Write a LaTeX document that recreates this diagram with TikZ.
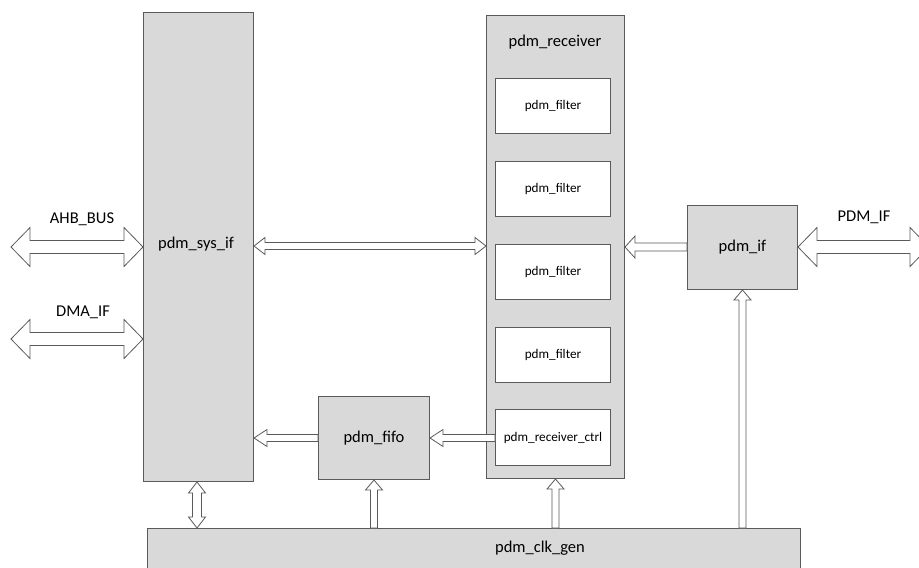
\documentclass[tikz,border=0pt]{standalone}
\usepackage{fontspec}
\setmainfont{Carlito}
\usetikzlibrary{calc}
\definecolor{boxfill}{HTML}{D9D9D9}
\definecolor{boxline}{HTML}{5A5A5A}
\tikzset{
  blk/.style={draw=boxline, fill=white, line width=0.8pt, line join=miter},
  gbox/.style={draw=boxline, fill=boxfill, line width=1pt, inner sep=0pt},
  wbox/.style={draw=boxline, fill=white, line width=1pt, inner sep=0pt},
  bigtxt/.style={font=\fontsize{16.5}{18}\selectfont},
  smalltxt/.style={font=\fontsize{13.2}{15}\selectfont},
}
% single block arrow: #1 tail, #2 tip, #3 half shaft, #4 half head, #5 head length
\newcommand\blkarrowS[5]{%
  \coordinate (sa2) at ($(#2)!#5!(#1)$);
  \draw[blk] ($(#1)!#3!90:(#2)$) -- ($(sa2)!#3!90:(#2)$) -- ($(sa2)!#4!90:(#2)$) -- (#2)
    -- ($(sa2)!#4!-90:(#2)$) -- ($(sa2)!#3!-90:(#2)$) -- ($(#1)!#3!-90:(#2)$) -- cycle;}
% double block arrow
\newcommand\blkarrowD[5]{%
  \coordinate (da1) at ($(#1)!#5!(#2)$);
  \coordinate (da2) at ($(#2)!#5!(#1)$);
  \draw[blk] (#1) -- ($(da1)!#4!90:(#2)$) -- ($(da1)!#3!90:(#2)$) -- ($(da2)!#3!90:(#2)$)
    -- ($(da2)!#4!90:(#2)$) -- (#2) -- ($(da2)!#4!-90:(#2)$) -- ($(da2)!#3!-90:(#2)$)
    -- ($(da1)!#3!-90:(#2)$) -- ($(da1)!#4!-90:(#2)$) -- cycle;}
\begin{document}
\begin{tikzpicture}[x=1pt,y=-1pt]
\useasboundingbox (0,0) rectangle (919,568);
\clip (0,0) rectangle (919,568);
\fill[white] (0,0) rectangle (919,568);

% main blocks
\node[gbox, minimum width=110pt, minimum height=469pt, anchor=north west] (sysif) at (143,12) {};
\node[bigtxt] (sysiflbl) at (196,244) {pdm\_sys\_if};

\node[gbox, minimum width=138pt, minimum height=463pt, anchor=north west] (recv) at (486,15) {};
\node[bigtxt] (recvlbl) at (555,42) {pdm\_receiver};

\node[wbox, smalltxt, minimum width=115pt, minimum height=55pt, anchor=north west] (f1) at (495,78) {pdm\_filter};
\node[wbox, smalltxt, minimum width=115pt, minimum height=55pt, anchor=north west] (f2) at (495,161) {pdm\_filter};
\node[wbox, smalltxt, minimum width=115pt, minimum height=55pt, anchor=north west] (f3) at (495,244) {pdm\_filter};
\node[wbox, smalltxt, minimum width=115pt, minimum height=55pt, anchor=north west] (f4) at (495,327) {pdm\_filter};
\node[wbox, smalltxt, minimum width=115pt, minimum height=56pt, anchor=north west] (ctrl) at (495,409) {pdm\_receiver\_ctrl};

\node[gbox, bigtxt, minimum width=111pt, minimum height=83pt, anchor=north west] (fifo) at (318,396) {pdm\_fifo};
\node[gbox, bigtxt, minimum width=110pt, minimum height=84pt, anchor=north west] (pif) at (687,205) {pdm\_if};

\node[gbox, minimum width=653pt, minimum height=60pt, anchor=north west] (clk) at (147,528) {};
\node[bigtxt] (clklbl) at (540,548) {pdm\_clk\_gen};

% free ends
\coordinate (ahbL) at (11,247);
\coordinate (ahbR) at (sysif.west |- ahbL);
\coordinate (dmaL) at (11,339);
\coordinate (dmaR) at (sysif.west |- dmaL);
\coordinate (pdmL) at (pif.east |- 0,247);
\coordinate (pdmR) at (929,247);

\node[bigtxt] (ahblbl) at (82,219) {AHB\_BUS};
\node[bigtxt] (dmalbl) at (83,312) {DMA\_IF};
\node[bigtxt] (pdmlbl) at (864,217) {PDM\_IF};

% external buses
\blkarrowD{ahbL}{ahbR}{6.5pt}{19.5pt}{19pt}
\blkarrowD{dmaL}{dmaR}{6.5pt}{19.5pt}{19pt}
\blkarrowD{pdmL}{pdmR}{6.5pt}{19.5pt}{19pt}

% internal connections
\coordinate (s2rA) at (sysif.east |- 0,246);
\coordinate (s2rB) at (recv.west |- 0,246);
\blkarrowD{s2rA}{s2rB}{3.5pt}{8.5pt}{11pt}

\coordinate (pifW) at (pif.west |- 0,247);
\coordinate (recvE) at (recv.east |- 0,247);
\blkarrowS{pifW}{recvE}{4pt}{11pt}{10pt}

\coordinate (fifoW) at (fifo.west);
\coordinate (sysE) at (sysif.east |- fifo.west);
\blkarrowS{fifoW}{sysE}{3.5pt}{8.5pt}{13pt}

\coordinate (ctrlW) at (ctrl.west |- fifo.east);
\coordinate (fifoE) at (fifo.east);
\blkarrowS{ctrlW}{fifoE}{3.5pt}{8.5pt}{13pt}

\coordinate (sysB) at (197,0 |- sysif.south);
\coordinate (clkT1) at (197,0 |- clk.north);
\blkarrowD{sysB}{clkT1}{4.5pt}{8.5pt}{11pt}

\coordinate (clkT2) at (fifo.south |- clk.north);
\coordinate (fifoS) at (fifo.south);
\blkarrowS{clkT2}{fifoS}{3.5pt}{8.5pt}{10pt}

\coordinate (clkT3) at (recv.south |- clk.north);
\coordinate (recvS) at (recv.south);
\blkarrowS{clkT3}{recvS}{3.5pt}{8.5pt}{10pt}

\coordinate (clkT4) at (pif.south |- clk.north);
\coordinate (pifS) at (pif.south);
\blkarrowS{clkT4}{pifS}{3.5pt}{8.5pt}{10pt}
\end{tikzpicture}
\end{document}
